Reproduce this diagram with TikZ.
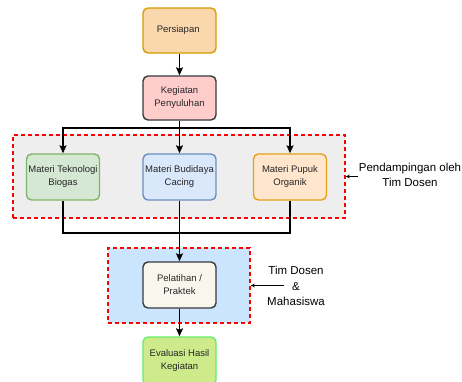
\documentclass[tikz,border=0pt]{standalone}
\usepackage{fontspec}
\setmainfont{Liberation Sans}
\usetikzlibrary{arrows.meta}

\definecolor{oranyeIsi}{HTML}{FAD7AC}
\definecolor{oranyeTepi}{HTML}{D79B00}
\definecolor{merahIsi}{HTML}{FFCCCC}
\definecolor{abuTepi}{HTML}{36393D}
\definecolor{hijauIsi}{HTML}{D5E8D4}
\definecolor{hijauTepi}{HTML}{82B366}
\definecolor{biruIsi}{HTML}{DAE8FC}
\definecolor{biruTepi}{HTML}{6C8EBF}
\definecolor{pupukIsi}{HTML}{FFE6CC}
\definecolor{pupukTepi}{HTML}{E3A21A}
\definecolor{krem}{HTML}{F9F7ED}
\definecolor{limeIsi}{HTML}{CDEB8B}
\definecolor{limeTepi}{HTML}{66EE66}
\definecolor{grupAbu}{HTML}{EEEEEE}
\definecolor{grupBiru}{HTML}{CCE5FF}

\begin{document}
\begin{tikzpicture}[x=1pt,y=-1pt,
	kotak/.style={rounded corners=5pt, line width=1.4pt, align=center, inner sep=1pt,
		minimum width=73pt, minimum height=45pt,
		font=\fontsize{9.5}{13}\selectfont, text=black!85},
	grup/.style={draw=red, line width=1.5pt, dash pattern=on 4pt off 3pt},
	panah/.style={line width=1.5pt, -{Stealth[length=8pt,width=7pt,inset=1.5pt]}},
	garis/.style={line width=1.5pt},
	ket/.style={align=center, font=\fontsize{11.5}{15.5}\selectfont, inner sep=1pt},
	tunjuk/.style={line width=0.5pt, -{Stealth[length=4pt,width=3.5pt]}}]
	\useasboundingbox (0,0) rectangle (462,381);
	
	% kelompok latar
	\draw (179,176.5) node[grup, fill=grupAbu, minimum width=332pt, minimum height=83pt] (grup1) {};
	\draw (179,285.5) node[grup, fill=grupBiru, minimum width=142pt, minimum height=75pt] (grup2) {};
	
	\draw (179.5,30.5) node[kotak, fill=oranyeIsi, draw=oranyeTepi] (persiapan)
	{
		Persiapan
	};
	
	\draw (179.5,98) node[kotak, fill=merahIsi, draw=abuTepi, minimum height=44pt] (penyuluhan)
	{
		Kegiatan \\
		Penyuluhan
	};
	
	\draw (63,177) node[kotak, fill=hijauIsi, draw=hijauTepi, minimum height=46pt] (biogas)
	{
		Materi Teknologi \\
		Biogas
	};
	
	\draw (179.5,177) node[kotak, fill=biruIsi, draw=biruTepi, minimum height=46pt] (cacing)
	{
		Materi Budidaya \\
		Cacing
	};
	
	\draw (290,177) node[kotak, fill=pupukIsi, draw=pupukTepi, minimum height=46pt] (pupuk)
	{
		Materi Pupuk \\
		Organik
	};
	
	\draw (179.5,285) node[kotak, fill=krem, draw=abuTepi, minimum height=46pt] (pelatihan)
	{
		Pelatihan / \\
		Praktek
	};
	
	\draw (179.5,361) node[kotak, fill=limeIsi, draw=limeTepi, minimum height=48pt] (evaluasi)
	{
		Evaluasi Hasil \\
		Kegiatan
	};
	
	\coordinate (cabang) at (179.5,128);
	\coordinate (gabung) at (179.5,233);
	
	\draw [panah] (persiapan) -- (penyuluhan);
	\draw [garis] (penyuluhan.south) -- (cabang);
	\draw [panah] (cabang) -| (biogas.north);
	\draw [panah] (cabang) -| (pupuk.north);
	\draw [panah] (cabang) -- (cacing.north);
	\draw [garis] (biogas.south) |- (gabung);
	\draw [garis] (pupuk.south) |- (gabung);
	\draw [panah] (cacing.south) -- (pelatihan.north);
	\draw [panah] (pelatihan) -- (evaluasi);
	
	% keterangan
	\draw (410,175) node[ket] (dosen)
	{
		Pendampingan oleh \\
		Tim Dosen
	};
	\draw [tunjuk] (dosen.west |- grup1.east) -- (grup1.east);
	
	\draw (296,286) node[ket] (mahasiswa)
	{
		Tim Dosen \\
		\& \\
		Mahasiswa
	};
	\coordinate (ekor) at (284,285.5);
	\draw [tunjuk] (ekor) -- (grup2.east);
\end{tikzpicture}
\end{document}
